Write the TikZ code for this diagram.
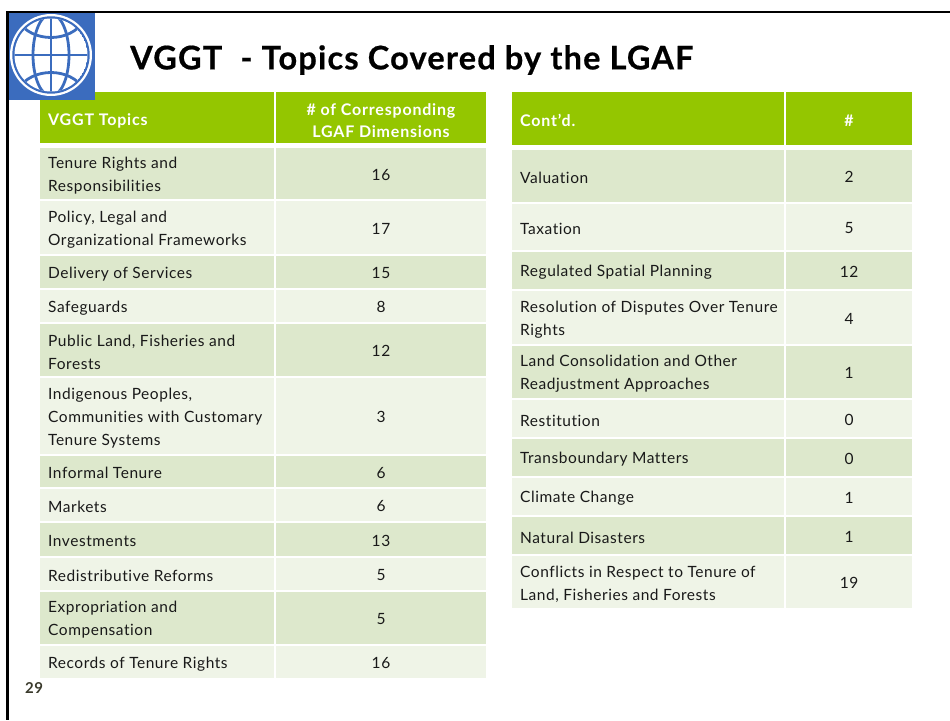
\documentclass[tikz,border=0pt]{standalone}
\usepackage{fontspec}
\setmainfont[LetterSpace=3.5,Ligatures=NoCommon]{Lato}
\newfontfamily\titlefont[LetterSpace=3.7,Ligatures=NoCommon,BoldFeatures={FakeBold=0.6}]{Lato}
\newfontfamily\headfont[LetterSpace=5.0,Ligatures=NoCommon]{Lato}
\definecolor{hdr}{HTML}{94C600}
\definecolor{rowdark}{HTML}{DDE8CC}
\definecolor{rowlight}{HTML}{EFF4E7}
\definecolor{wbblue}{HTML}{3B6CBE}
\definecolor{numgrey}{HTML}{3A3A2C}
\tikzset{
  tcellbase/.style={rectangle,inner ysep=0pt,inner xsep=0pt,text=black!90,font=\fontsize{15.5}{23}\selectfont},
  head/.style={tcellbase,fill=hdr,text=white,font=\headfont\fontsize{16}{22}\selectfont\bfseries},
  dark/.style={tcellbase,fill=rowdark},
  light/.style={tcellbase,fill=rowlight},
  lefttext/.style={align=left,anchor=west,yshift=-2pt},
  centertext/.style={align=center,yshift=-1.3pt},
  frameline/.style={fill=black},
  globeline/.style={draw=wbblue,line width=2.8pt}
}
% name, x0, y0, x1, y1, style, extra placement, text: text set from the left, 8 in
\newcommand\lcell[8]{%
  \path[#6] (#2,#3) rectangle (#4,#5);%
  \node[#6,fill=none,lefttext,#7] (#1) at ({#2+8},{(#3+#5)/2}) {#8};%
}
% the same, with the text centred in the cell
\newcommand\ccell[8]{%
  \path[#6] (#2,#3) rectangle (#4,#5);%
  \node[#6,fill=none,centertext,#7] (#1) at ({(#2+#4)/2},{(#3+#5)/2}) {#8};%
}
\newcommand\lrow[5]{\lcell{lt#1}{40}{#2}{274}{#3}{#4}{}{#5}}
\newcommand\lnum[4]{\ccell{ln#1}{276}{#2}{486}{#3}{#4}{}}
\newcommand\rrow[5]{\lcell{rt#1}{512}{#2}{784}{#3}{#4}{}{#5}}
\newcommand\rnum[4]{\ccell{rn#1}{786}{#2}{912}{#3}{#4}{}}
\begin{document}
\begin{tikzpicture}[x=1pt,y=-1pt]
\useasboundingbox (0,0) rectangle (950,720);
\fill[white] (0,0) rectangle (950,720);
% slide frame
\fill[frameline] (6,720) rectangle (9,11);
\fill[frameline] (6,11) rectangle (950,13.3);
% title
\node[anchor=west,inner sep=0pt,font=\titlefont\fontsize{32.5}{36}\selectfont\bfseries] (title) at (130,60) {VGGT\ \ - Topics Covered by the LGAF};
% left table
\lcell{lh1}{40}{92}{274}{143}{head}{yshift=-1.1pt}{VGGT Topics}
\ccell{lh2}{276}{92}{486}{143}{head}{yshift=-1.4pt}{\# of Corresponding\\LGAF Dimensions}
\lrow{1}{148}{199}{dark}{Tenure Rights and\\Responsibilities}\lnum{1}{148}{199}{dark}{16}
\lrow{2}{201}{254}{light}{Policy, Legal and\\Organizational Frameworks}\lnum{2}{201}{254}{light}{17}
\lrow{3}{256}{288}{dark}{Delivery of Services}\lnum{3}{256}{288}{dark}{15}
\lrow{4}{290}{322}{light}{Safeguards}\lnum{4}{290}{322}{light}{8}
\lrow{5}{324}{376}{dark}{Public Land, Fisheries and\\Forests}\lnum{5}{324}{376}{dark}{12}
\lrow{6}{378}{453.5}{light}{Indigenous Peoples,\\Communities with Customary\\Tenure Systems}\lnum{6}{378}{453.5}{light}{3}
\lrow{7}{455.5}{487}{dark}{Informal Tenure}\lnum{7}{455.5}{487}{dark}{6}
\lrow{8}{489}{521}{light}{Markets}\lnum{8}{489}{521}{light}{6}
\lrow{9}{523}{556}{dark}{Investments}\lnum{9}{523}{556}{dark}{13}
\lrow{10}{558}{590}{light}{Redistributive Reforms}\lnum{10}{558}{590}{light}{5}
\lrow{11}{592}{644}{dark}{Expropriation and\\Compensation}\lnum{11}{592}{644}{dark}{5}
\lrow{12}{646}{678}{light}{Records of Tenure Rights}\lnum{12}{646}{678}{light}{16}
% right table
\lcell{rh1}{512}{92}{784}{145}{head}{}{Cont’d.}
\ccell{rh2}{786}{92}{912}{145}{head}{yshift=-1pt}{\#}
\rrow{1}{150}{202}{dark}{Valuation}\rnum{1}{150}{202}{dark}{2}
\rrow{2}{204}{250}{light}{Taxation}\rnum{2}{204}{250}{light}{5}
\rrow{3}{252}{289}{dark}{Regulated Spatial Planning}\rnum{3}{252}{289}{dark}{12}
\rrow{4}{291}{344}{light}{Resolution of Disputes Over Tenure\\Rights}\rnum{4}{291}{344}{light}{4}
\rrow{5}{346}{398}{dark}{Land Consolidation and Other\\Readjustment Approaches}\rnum{5}{346}{398}{dark}{1}
\rrow{6}{400}{437}{light}{Restitution}\rnum{6}{400}{437}{light}{0}
\rrow{7}{439}{476}{dark}{Transboundary Matters}\rnum{7}{439}{476}{dark}{0}
\rrow{8}{478}{515}{light}{Climate Change}\rnum{8}{478}{515}{light}{1}
\rrow{9}{517}{554}{dark}{Natural Disasters}\rnum{9}{517}{554}{dark}{1}
\rrow{10}{556}{608}{light}{Conflicts in Respect to Tenure of\\Land, Fisheries and Forests}\rnum{10}{556}{608}{light}{19}
% logo, lying over the table header
\fill[wbblue] (9,13) rectangle (95,100);
\fill[white] (51,55) circle (41);
\fill[wbblue] (51,55) circle (38.7);
\begin{scope}
\clip (51,55) circle (36.5);
\fill[white] (51,55) circle (36.5);
\draw[globeline] (51,14) -- (51,96);
\draw[globeline] (10,55) -- (92,55);
\draw[globeline] (51,55) ellipse (18 and 41);
\draw[globeline] (18,21) .. controls (32,43) and (70,43) .. (84,21);
\draw[globeline] (18,89) .. controls (32,67) and (70,67) .. (84,89);
\end{scope}
% slide number
\node[anchor=west,inner sep=0pt,text=numgrey,font=\fontsize{15}{18}\selectfont\bfseries] (pagenum) at (25,688) {29};
\end{tikzpicture}
\end{document}
